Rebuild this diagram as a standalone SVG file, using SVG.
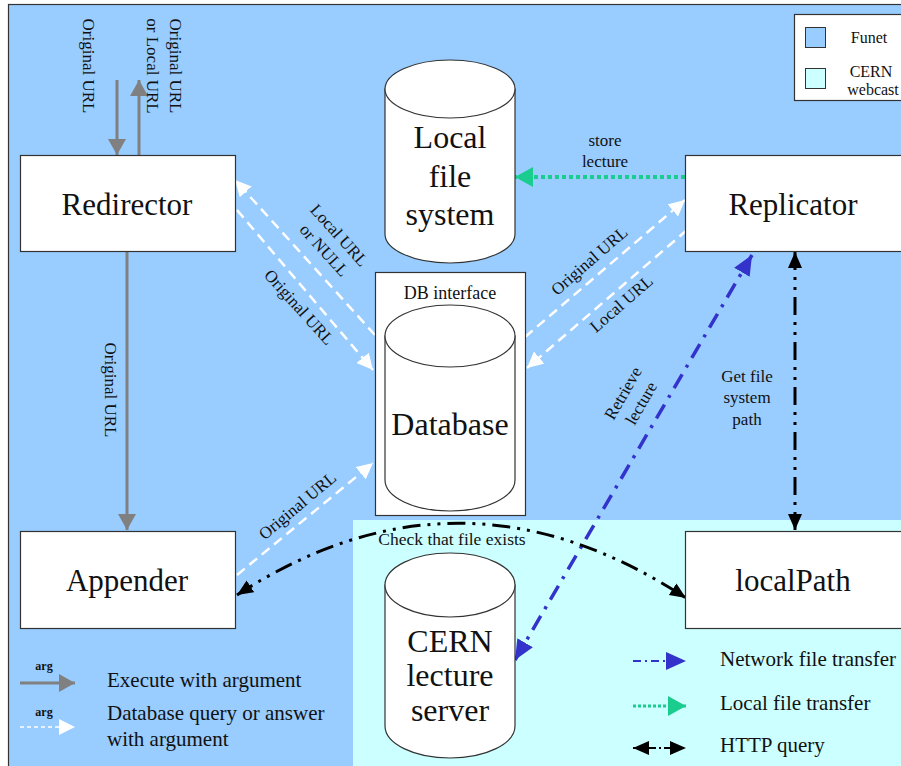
<svg xmlns="http://www.w3.org/2000/svg" width="901" height="766" viewBox="0 0 901 766">
<style>
text{font-family:"Liberation Serif","Times New Roman",serif;fill:#111}
.node{fill:#fff;stroke:#333;stroke-width:1.2}
.big{font-size:31px;text-anchor:middle}
.cyl{font-size:32px;text-anchor:middle}
.lbl{font-size:17px;text-anchor:middle}
.leg{font-size:21px}
.gray{stroke:#808080;stroke-width:3;fill:none}
.white{stroke:#fff;stroke-width:2.5;stroke-dasharray:10 6;fill:none}
.green{stroke:#1ACC8E;stroke-width:4;stroke-dasharray:4 3;fill:none}
.blue{stroke:#3333CC;stroke-width:3.5;stroke-dasharray:16 8 3 8;fill:none}
.black{stroke:#000;stroke-width:3;stroke-dasharray:18 7 3 7 3 7;fill:none}
</style>
<defs>
<marker id="mGray" markerUnits="userSpaceOnUse" markerWidth="18" markerHeight="18" refX="16" refY="9" orient="auto-start-reverse"><path d="M0,0 L16,9 L0,18 z" fill="#808080"/></marker>
<marker id="mWhite" markerUnits="userSpaceOnUse" markerWidth="18" markerHeight="18" refX="16" refY="8" orient="auto-start-reverse"><path d="M0,0 L16,8 L0,16 z" fill="#fff"/></marker>
<marker id="mGreen" markerUnits="userSpaceOnUse" markerWidth="20" markerHeight="20" refX="18" refY="10" orient="auto-start-reverse"><path d="M0,0 L18,10 L0,20 z" fill="#1ACC8E"/></marker>
<marker id="mBlue" markerUnits="userSpaceOnUse" markerWidth="22" markerHeight="20" refX="20" refY="9" orient="auto-start-reverse"><path d="M0,0 L20,9 L0,18 z" fill="#3333CC"/></marker>
<marker id="mBlack" markerUnits="userSpaceOnUse" markerWidth="18" markerHeight="16" refX="16" refY="7" orient="auto-start-reverse"><path d="M0,0 L16,7 L0,14 z" fill="#000"/></marker>
</defs>
<rect x="0" y="0" width="901" height="766" fill="#fff"/>
<rect x="8.5" y="4.5" width="900" height="770" fill="#99CCFF" stroke="#333" stroke-width="1.2"/>
<rect x="353" y="520" width="560" height="260" fill="#CCFFFF"/>

<g id="legend-area">
<rect x="794.5" y="14.5" width="110" height="86" fill="#fff" stroke="#333" stroke-width="1.2"/>
<rect x="805.5" y="27.5" width="20" height="20" fill="#99CCFF" stroke="#333"/>
<rect x="805.5" y="68.5" width="20" height="20" fill="#CCFFFF" stroke="#333"/>
<text x="869" y="43" font-size="16" text-anchor="middle">Funet</text>
<text x="871" y="77" font-size="16" text-anchor="middle">CERN</text>
<text x="873" y="95" font-size="16" text-anchor="middle">webcast</text>
</g>

<g id="connectors">
<line class="gray" x1="117" y1="80" x2="117" y2="155" marker-end="url(#mGray)"/>
<line class="gray" x1="139" y1="155" x2="139" y2="80" marker-end="url(#mGray)"/>
<line class="gray" x1="127" y1="251" x2="127" y2="530" marker-end="url(#mGray)"/>
<line class="white" x1="375" y1="335" x2="235" y2="180" marker-end="url(#mWhite)"/>
<line class="white" x1="237" y1="210" x2="373" y2="370" marker-end="url(#mWhite)"/>
<line class="white" x1="525" y1="337" x2="685" y2="200" marker-end="url(#mWhite)"/>
<line class="white" x1="687" y1="230" x2="527" y2="368" marker-end="url(#mWhite)"/>
<line class="white" x1="237" y1="575" x2="373" y2="463" marker-end="url(#mWhite)"/>
<line class="green" x1="685" y1="177" x2="515" y2="177" marker-end="url(#mGreen)"/>
<line class="blue" x1="515" y1="660" x2="752" y2="255" marker-start="url(#mBlue)" marker-end="url(#mBlue)"/>
<line class="black" x1="795" y1="252" x2="795" y2="530" marker-start="url(#mBlack)" marker-end="url(#mBlack)"/>
<path class="black" d="M237,595 Q460,450 686,598" marker-start="url(#mBlack)" marker-end="url(#mBlack)"/>
</g>

<g id="connector-labels">
<text class="lbl" transform="translate(83,66) rotate(90)">Original URL</text>
<text class="lbl" transform="translate(170,66) rotate(90)">Original URL</text>
<text class="lbl" transform="translate(147,66) rotate(90)">or Local URL</text>
<text class="lbl" transform="translate(105,390) rotate(90)">Original URL</text>
<text class="lbl" transform="translate(335,239) rotate(48)">Local URL</text>
<text class="lbl" transform="translate(320,254) rotate(48)">or NULL</text>
<text class="lbl" transform="translate(295,311) rotate(48)">Original URL</text>
<text class="lbl" transform="translate(593,265) rotate(-41)">Original URL</text>
<text class="lbl" transform="translate(625,308) rotate(-41)">Local URL</text>
<text class="lbl" transform="translate(301,510) rotate(-40)">Original URL</text>
<text class="lbl" transform="translate(628,396) rotate(-60)">Retrieve</text>
<text class="lbl" transform="translate(646,406) rotate(-60)">lecture</text>
<text x="605" y="146" font-size="17" text-anchor="middle">store</text>
<text x="605" y="167" font-size="17" text-anchor="middle">lecture</text>
<text x="747" y="382" font-size="17" text-anchor="middle">Get file</text>
<text x="747" y="403" font-size="17" text-anchor="middle">system</text>
<text x="747" y="425" font-size="17" text-anchor="middle">path</text>
<text x="452" y="545" font-size="17.5" text-anchor="middle">Check that file exists</text>
</g>

<g id="redirector">
<rect class="node" x="20.5" y="155.5" width="215" height="96"/>
<text class="big" x="127" y="215">Redirector</text>
</g>
<g id="replicator">
<rect class="node" x="685.5" y="155.5" width="220" height="96"/>
<text class="big" x="793" y="215">Replicator</text>
</g>
<g id="appender">
<rect class="node" x="20.5" y="531.5" width="215" height="97"/>
<text class="big" x="127" y="591">Appender</text>
</g>
<g id="localPath">
<rect class="node" x="685.5" y="531.5" width="220" height="97"/>
<text class="big" x="793" y="591">localPath</text>
</g>
<g id="local-file-system">
<path class="node" d="M385,89 L385,234 A65,29 0 0 0 515,234 L515,89 Z"/>
<ellipse class="node" cx="450" cy="89" rx="65" ry="29"/>
<text class="cyl" x="450" y="148">Local</text>
<text class="cyl" x="450" y="187">file</text>
<text class="cyl" x="450" y="225">system</text>
</g>
<g id="database">
<rect class="node" x="375.5" y="272.5" width="150" height="243"/>
<text x="450" y="299" font-size="18" text-anchor="middle">DB interface</text>
<path class="node" d="M385,336 L385,480 A65,31 0 0 0 515,480 L515,336 Z"/>
<ellipse class="node" cx="450" cy="336" rx="65" ry="31"/>
<text class="cyl" x="450" y="435">Database</text>
</g>
<g id="cern-lecture-server">
<path class="node" d="M385,585 L385,726 A65,32 0 0 0 515,726 L515,585 Z"/>
<ellipse class="node" cx="450" cy="585" rx="65" ry="32"/>
<text class="cyl" x="450" y="652">CERN</text>
<text class="cyl" x="450" y="686">lecture</text>
<text class="cyl" x="450" y="721">server</text>
</g>

<g id="legend-left">
<line class="gray" x1="20" y1="683" x2="75" y2="683" marker-end="url(#mGray)"/>
<text x="44" y="670" font-size="12" font-weight="bold" text-anchor="middle">arg</text>
<text class="leg" x="107" y="687">Execute with argument</text>
<line stroke="#fff" stroke-width="1.5" stroke-dasharray="4 3" x1="20" y1="727" x2="75" y2="727" marker-end="url(#mWhite)"/>
<text x="44" y="716" font-size="12" font-weight="bold" text-anchor="middle">arg</text>
<text class="leg" x="107" y="720">Database query or answer</text>
<text class="leg" x="107" y="746">with argument</text>
</g>
<g id="legend-right">
<line stroke="#3333CC" stroke-width="2" stroke-dasharray="8 4 2 4" x1="633" y1="661" x2="686" y2="661" marker-end="url(#mBlue)"/>
<text class="leg" x="720" y="666">Network file transfer</text>
<line stroke="#1ACC8E" stroke-width="3" stroke-dasharray="3 2" x1="633" y1="706" x2="686" y2="706" marker-end="url(#mGreen)"/>
<text class="leg" x="720" y="710">Local file transfer</text>
<line stroke="#000" stroke-width="2" stroke-dasharray="6 3 2 3" x1="650" y1="748" x2="686" y2="748" marker-end="url(#mBlack)"/>
<line stroke="#000" stroke-width="2" x1="633" y1="748" x2="650" y2="748" marker-start="url(#mBlack)"/>
<text class="leg" x="720" y="752">HTTP query</text>
</g>
</svg>
